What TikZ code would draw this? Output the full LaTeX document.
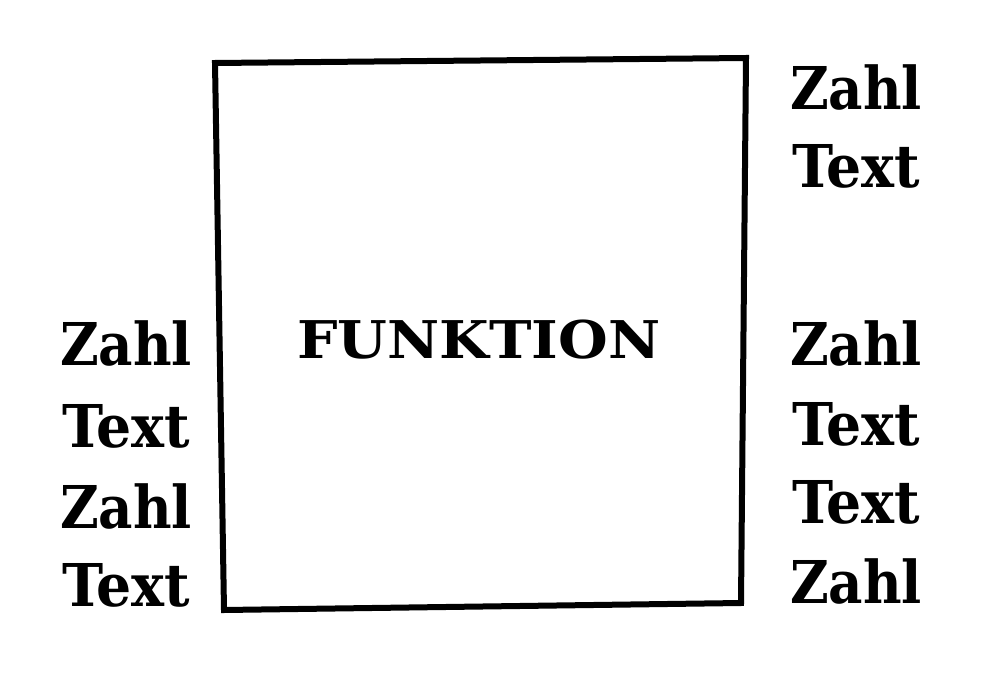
\documentclass[tikz,border=0pt]{standalone}
\usepackage{fontspec}
\newfontfamily\slab{DejaVu Serif Condensed Bold}
\newfontfamily\slabx[FakeStretch=1.04]{DejaVu Serif Condensed Bold}
\newfontfamily\slabt[FakeStretch=1.22]{DejaVu Serif Condensed Bold}
\tikzset{
  lbl/.style={anchor=base west,inner sep=0pt,font=\slab\fontsize{59}{59}\selectfont},
  lblt/.style={anchor=base west,inner sep=0pt,font=\slabx\fontsize{59}{59}\selectfont},
  ttl/.style={anchor=base west,inner sep=0pt,font=\slabt\fontsize{52}{52}\selectfont},
  frame/.style={line width=6pt,line join=miter}
}
\begin{document}
\begin{tikzpicture}[x=1pt,y=-1pt]
\useasboundingbox (0,0) rectangle (985,679);
\coordinate (tl) at (215,63);
\coordinate (tr) at (746,58);
\coordinate (br) at (741,603);
\coordinate (bl) at (224,610);
\draw[frame] (tl) -- (tr) -- (br) -- (bl) -- cycle;
\node[ttl] (fn) at (297,358) {FUNKTION};
% left column
\node[lbl] (l1) at (60,365) {Zahl};
\node[lblt] (l2) at (62,447) {Text};
\node[lbl] (l3) at (60,528) {Zahl};
\node[lblt] (l4) at (62,606) {Text};
% right column
\node[lbl] (r1) at (790,110) {Zahl};
\node[lblt] (r2) at (792,188) {Text};
\node[lbl] (r3) at (790,365) {Zahl};
\node[lblt] (r4) at (792,445) {Text};
\node[lblt] (r5) at (792,523) {Text};
\node[lbl] (r6) at (790,603) {Zahl};
\end{tikzpicture}
\end{document}
